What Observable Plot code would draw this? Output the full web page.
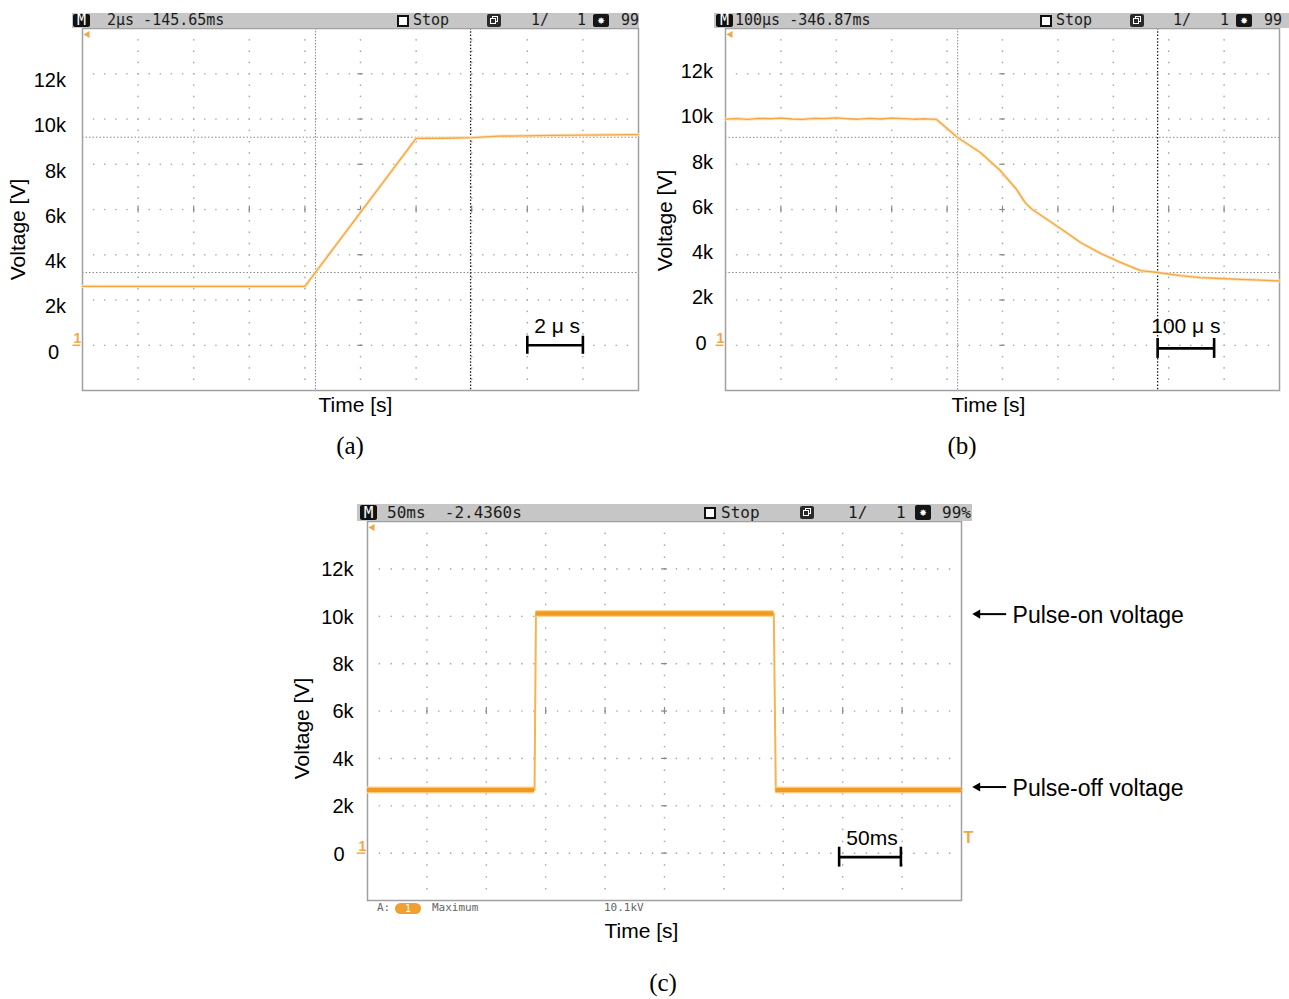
<!DOCTYPE html>
<html>
<head>
<meta charset="utf-8">
<script src="https://cdn.jsdelivr.net/npm/d3@7"></script>
<script src="https://cdn.jsdelivr.net/npm/@observablehq/plot@0.6"></script>
<style>
html,body{margin:0;padding:0;background:#fff;overflow:hidden;width:1289px;height:999px;}
body{position:relative;font-family:"Liberation Sans",Arial,Helvetica,sans-serif;}
.panel{position:absolute;}
.panel svg{max-width:none;overflow:visible;display:block;}
.hdr{position:absolute;background:#c6c6c6;font-family:"DejaVu Sans Mono","Liberation Mono",monospace;color:#1c1c1c;}
.hdr span{position:absolute;top:0;white-space:pre;}
.hdr .mbox{background:#111;color:#fff;text-align:center;border-radius:2px;}
.hdr .sq{background:#fff;border:2px solid #111;box-sizing:border-box;}
.hdr .ico{background:#2a2a2a;border-radius:2px;}
.hdr .ico i{position:absolute;border:1.5px solid #fff;box-sizing:border-box;background:#2a2a2a;}
.hdr .ico2{background:#161616;color:#fff;text-align:center;border-radius:2px;}
.cap{position:absolute;font-family:"Liberation Serif","Times New Roman",serif;font-size:25px;transform:translate(-50%,-50%);white-space:nowrap;}
.foot{position:absolute;font-family:"DejaVu Sans Mono","Liberation Mono",monospace;color:#666;}
.foot span{position:absolute;white-space:pre;}
.foot .pill{background:#f0a030;color:#fff;border-radius:6px;text-align:center;}
</style>
</head>
<body>
<div id="pa" class="panel" style="left:0px;top:0px;"></div>
<div id="pb" class="panel" style="left:640px;top:0px;"></div>
<div id="pc" class="panel" style="left:270px;top:493px;"></div>
<script>
// ---------------- data ----------------
const yTicks = [0, 2000, 4000, 6000, 8000, 10000, 12000];
const yTickLabels = ["0", "2k", "4k", "6k", "8k", "10k", "12k"];

// (a) rise, time in µs, voltage in V (2 µs/div)
const aTime = [0, 8.0, 12.0, 13.0, 14.0, 15.0, 17.0, 20.0];
const aVolt = [2600, 2600, 9140, 9150, 9180, 9240, 9280, 9310];
const aCursorTime = [8.38, 13.96];
const aCursorVolt = [3215, 9195];
const aBarTime = [16, 18];
const aBarVolt = [0];

// (b) fall, time in µs (100 µs/div)
const bTime = [0, 20, 40, 60, 80, 100, 120, 140, 160, 180, 200, 220, 240, 260, 280, 300, 320, 340, 360,
  381, 419, 460, 496, 524, 542, 554, 578, 610, 641, 677, 713, 749, 780, 821, 857, 894, 930, 966, 1000];
const bVolt = [9990, 10020, 9980, 10030, 10010, 10040, 10000, 9980, 10030, 10020, 10050, 10010, 9990, 10030, 10000, 10040, 10020, 9990, 10010,
  9980, 9180, 8520, 7720, 6930, 6270, 6000, 5600, 5070, 4540, 4060, 3660, 3300, 3215, 3080, 2990, 2950, 2910, 2880, 2840];
const bCursorTime = [419, 780];
const bCursorVolt = [3215, 9190];
const bBarTime = [780, 882];
const bBarVolt = [-140];

// (c) pulse, time in ms (50 ms/div)
const cTime = [0, 140.6, 141.8, 342.0, 343.7, 500];
const cVolt = [2660, 2660, 10120, 10120, 2660, 2660];
const cBarTime = [397, 449];
const cBarVolt = [-170];
const cAnnLabels = ["Pulse-on voltage", "Pulse-off voltage"];
const cAnnVolt = [10090, 2790];
const cAnnTime = [538, 513.5, 543]; // tail, head, text start (ms, beyond the screen)
const cTrigVolt = [630];

// header texts
const hdrA = {mode: "M", scale: "2µs -145.65ms", stop: "Stop", acq: "1/", n: "1", pct: "99"};
const hdrB = {mode: "M", scale: "100µs -346.87ms", stop: "Stop", acq: "1/", n: "1", pct: "99"};
const hdrC = {mode: "M", scale: "50ms  -2.4360s", stop: "Stop", acq: "1/", n: "1", pct: "99%"};
const footC = {a: "A:", ch: "1", mode: "Maximum", val: "10.1kV"};

// ---------------- drawing ----------------
const FONT = '"Liberation Sans", Arial, Helvetica, sans-serif';
const ORANGE = "#f2a743";

function scopePanel(o) {
  const xDiv = o.xDiv, vDiv = 2000, vMin = -2000, vMax = 14000;
  const xMax = 10 * xDiv;
  const rowV = d3.range(1, 8).map(i => vMin + i * vDiv);
  const colT = d3.range(1, 10).map(i => i * xDiv);
  const dots = [];
  for (const v of rowV) for (let j = 1; j < 50; j++) dots.push({t: j * xDiv / 5, v});
  for (const t of colT) for (let k = 1; k < 32; k++) dots.push({t, v: vMin + k * vDiv / 4});
  const cT = 5 * xDiv, cV = vMin + 4 * vDiv;
  const trace = o.time.map((t, i) => ({t, v: o.volt[i]}));
  const ticks = yTicks.map((v, i) => ({v, label: yTickLabels[i]}));
  const bar = {t1: o.barTime[0], t2: o.barTime[1], v: o.barVolt[0]};

  const marks = [
    Plot.dot(dots, {x: "t", y: "v", r: 0.85, fill: "#ababab"}),
    Plot.ruleX(colT, {x: d => d, y1: () => cV - 0.075 * vDiv, y2: () => cV + 0.075 * vDiv, stroke: "#8a8a8a", strokeWidth: 1.2}),
    Plot.ruleY(rowV, {y: d => d, x1: () => cT - 0.05 * xDiv, x2: () => cT + 0.05 * xDiv, stroke: "#8a8a8a", strokeWidth: 1.2})
  ];
  if (o.cursorVolt) marks.push(Plot.ruleY(o.cursorVolt, {y: d => d, stroke: "#8c8c8c", strokeDasharray: "1.5,2"}));
  if (o.cursorTime) {
    marks.push(Plot.ruleX([o.cursorTime[0]], {x: d => d, stroke: "#8c8c8c", strokeDasharray: "1.5,1.5"}));
    marks.push(Plot.ruleX([o.cursorTime[1]], {x: d => d, stroke: "#1e1e1e", strokeWidth: 1.3, strokeDasharray: "1.5,1.8"}));
  }
  marks.push(Plot.frame({stroke: "#a0a0a0", strokeWidth: 1.5}));
  // trace
  if (o.thick) {
    const segs = [];
    for (let i = 0; i < trace.length - 1; i++)
      if (trace[i].v === trace[i + 1].v) segs.push({t1: trace[i].t, t2: trace[i + 1].t, v: trace[i].v});
    marks.push(Plot.line(trace, {x: "t", y: "v", stroke: "#f7b44e", strokeWidth: 2}));
    marks.push(Plot.ruleY(segs, {y: "v", x1: "t1", x2: "t2", stroke: "#fcd79a", strokeWidth: 7}));
    marks.push(Plot.ruleY(segs, {y: "v", x1: "t1", x2: "t2", stroke: "#f29a1f", strokeWidth: 4.5}));
  } else {
    marks.push(Plot.line(trace, {x: "t", y: "v", stroke: "#fde4bd", strokeWidth: 3.2}));
    marks.push(Plot.line(trace, {x: "t", y: "v", stroke: ORANGE, strokeWidth: 1.3}));
  }
  // scope markers
  marks.push(
    Plot.dot([0], {frameAnchor: "top-left", dx: 5, dy: 6, symbol: "triangle", rotate: -90, r: 2.6, fill: ORANGE}),
    Plot.text([0], {y: d => d, frameAnchor: "left", text: () => "1", textAnchor: "middle", dx: -5, dy: -2, lineAnchor: "bottom", fill: ORANGE, fontSize: 14, fontWeight: "bold"}),
    Plot.ruleY([0], {y: d => d, x1: () => -0.17 * xDiv, x2: () => -0.03 * xDiv, stroke: ORANGE, strokeWidth: 1.5})
  );
  if (o.trig) marks.push(Plot.text(o.trig, {y: d => d, frameAnchor: "right", textAnchor: "middle", dx: 7, text: () => "T", fill: ORANGE, fontSize: 16, fontWeight: "bold"}));
  // tick labels and axis titles
  marks.push(
    Plot.text(ticks.filter(d => d.v !== 0), {y: "v", text: "label", frameAnchor: "left", textAnchor: "end", dx: o.tickDx, dy: o.tickDy, fontSize: 20, fill: "#000"}),
    Plot.text(ticks.filter(d => d.v === 0), {y: "v", text: "label", frameAnchor: "left", textAnchor: "end", dx: o.zeroDx, dy: o.tickDy, fontSize: 20, fill: "#000"}),
    Plot.text(["Voltage [V]"], {text: d => d, frameAnchor: "left", textAnchor: "middle", lineAnchor: "middle", rotate: -90, dx: o.yLabDx, dy: o.yLabDy, fontSize: 21, fill: "#000"}),
    Plot.text(["Time [s]"], {text: d => d, frameAnchor: "bottom", textAnchor: "middle", lineAnchor: "middle", dx: o.xLabDx, dy: o.xLabDy, fontSize: 21, fill: "#000"})
  );
  // scale bar
  marks.push(
    Plot.ruleY([bar], {y: "v", x1: "t1", x2: "t2", stroke: "#000", strokeWidth: 2.6}),
    Plot.ruleX([bar.t1, bar.t2], {x: d => d, y1: () => bar.v - o.barCap, y2: () => bar.v + o.barCap, stroke: "#000", strokeWidth: 2.6}),
    Plot.text([bar], {x: d => (d.t1 + d.t2) / 2, y: "v", text: () => o.barLabel, dx: o.barLabDx, dy: o.barLabDy, fontSize: 21, fill: "#000"})
  );
  if (o.extra) marks.push(...o.extra);

  const svg = Plot.plot({
    width: o.width, height: o.height,
    marginLeft: o.mL, marginRight: o.mR, marginTop: o.mT, marginBottom: o.mB,
    x: {domain: [0, xMax], axis: null},
    y: {domain: [vMin, vMax], axis: null},
    style: {fontFamily: FONT, background: "transparent", overflow: "visible"},
    marks
  });
  document.getElementById(o.el).appendChild(svg);
}

scopePanel({
  el: "pa", width: 660, height: 440, mL: 82, mR: 22, mT: 28, mB: 50,
  xDiv: 2, time: aTime, volt: aVolt, cursorTime: aCursorTime, cursorVolt: aCursorVolt,
  tickDx: -16.5, zeroDx: -23.5, tickDy: 7,
  yLabDx: -64, yLabDy: 20, xLabDx: -5, xLabDy: 15,
  barTime: aBarTime, barVolt: aBarVolt, barCap: 400, barLabel: "2 μ s", barLabDx: 2, barLabDy: -19
});

scopePanel({
  el: "pb", width: 649, height: 440, mL: 85, mR: 10, mT: 28, mB: 50,
  xDiv: 100, time: bTime, volt: bVolt, cursorTime: bCursorTime, cursorVolt: bCursorVolt,
  tickDx: -12.5, zeroDx: -19, tickDy: -2,
  yLabDx: -60, yLabDy: 11, xLabDx: -14, xLabDy: 15,
  barTime: bBarTime, barVolt: bBarVolt, barCap: 440, barLabel: "100 μ s", barLabDx: 0, barLabDy: -22
});

const cAnn = cAnnLabels.map((label, i) => ({label, v: cAnnVolt[i]}));
scopePanel({
  el: "pc", width: 1019, height: 467, mL: 97, mR: 328, mT: 28, mB: 60,
  xDiv: 50, time: cTime, volt: cVolt, thick: true, trig: cTrigVolt,
  tickDx: -14, zeroDx: -23, tickDy: 1,
  yLabDx: -65, yLabDy: 17.5, xLabDx: -23, xLabDy: 31,
  barTime: cBarTime, barVolt: cBarVolt, barCap: 420, barLabel: "50ms", barLabDx: 2, barLabDy: -19,
  extra: [
    Plot.ruleY(cAnn, {y: "v", x1: () => cAnnTime[0], x2: () => cAnnTime[1], stroke: "#000", strokeWidth: 2}),
    Plot.dot(cAnn, {x: () => cAnnTime[1], y: "v", symbol: "triangle", rotate: -90, r: 3.4, fill: "#000"}),
    Plot.text(cAnn, {x: () => cAnnTime[2], y: "v", text: "label", textAnchor: "start", dy: 2, fontSize: 23, fill: "#000"})
  ]
});

// ---------------- scope header bars (HTML) ----------------
function buildHeader(cfg, txt) {
  const bar = document.createElement("div");
  bar.className = "hdr";
  bar.style.cssText = `left:${cfg.left}px;top:${cfg.top}px;width:${cfg.width}px;height:${cfg.h}px;font-size:${cfg.fs}px;line-height:${cfg.h}px;`;
  const add = (cls, x, text, extra = "") => {
    const s = document.createElement("span");
    s.className = cls;
    s.style.cssText = `left:${x}px;` + extra;
    if (text != null) s.textContent = text;
    bar.appendChild(s);
    return s;
  };
  const p = cfg.pos, h = cfg.h;
  add("mbox", p.m, txt.mode, `top:1px;width:17px;height:${h - 2}px;line-height:${h - 2}px;`);
  add("t", p.scale, txt.scale);
  add("sq", p.sq, null, `top:${(h - 12) / 2}px;width:12px;height:12px;`);
  add("t", p.stop, txt.stop);
  const ic = add("ico", p.ico1, null, `top:${(h - 13) / 2}px;width:14px;height:13px;`);
  const i1 = document.createElement("i"); i1.style.cssText = "left:5px;top:2px;width:6px;height:6px;"; ic.appendChild(i1);
  const i2 = document.createElement("i"); i2.style.cssText = "left:3px;top:4px;width:6px;height:6px;"; ic.appendChild(i2);
  add("t", p.acq, txt.acq);
  add("t", p.n, txt.n);
  add("ico2", p.ico2, "✸", `top:1px;width:16px;height:${h - 2}px;line-height:${h - 2}px;font-size:12px;`);
  add("t", p.pct, txt.pct);
  document.body.appendChild(bar);
}
buildHeader({left: 72, top: 13, width: 567, h: 15, fs: 15,
  pos: {m: 1, scale: 35, sq: 325, stop: 341, ico1: 415, acq: 459, n: 505, ico2: 521, pct: 549}}, hdrA);
buildHeader({left: 714, top: 13, width: 575, h: 15, fs: 15,
  pos: {m: 2, scale: 21, sq: 326, stop: 342, ico1: 416, acq: 459, n: 506, ico2: 522, pct: 550}}, hdrB);
buildHeader({left: 357, top: 504, width: 615, h: 17, fs: 16,
  pos: {m: 3, scale: 30, sq: 347, stop: 364, ico1: 443, acq: 491, n: 539, ico2: 558, pct: 585}}, hdrC);

// status line under panel (c)
(function () {
  const f = document.createElement("div");
  f.className = "foot";
  f.style.cssText = "left:368px;top:902px;width:594px;height:12px;font-size:11px;line-height:12px;";
  const add = (cls, x, text, extra = "") => {
    const s = document.createElement("span");
    s.className = cls; s.style.cssText = `left:${x}px;top:0px;` + extra; s.textContent = text; f.appendChild(s);
  };
  add("t", 9, footC.a);
  add("pill", 27, footC.ch, "width:26px;height:11px;line-height:11px;font-size:10px;top:1px;");
  add("t", 64, footC.mode);
  add("t", 236, footC.val);
  document.body.appendChild(f);
})();

// figure captions
[["(a)", 350, 446], ["(b)", 962, 446], ["(c)", 663, 983]].forEach(([t, x, y]) => {
  const d = document.createElement("div");
  d.className = "cap"; d.style.left = x + "px"; d.style.top = y + "px"; d.textContent = t;
  document.body.appendChild(d);
});
</script>
</body>
</html>
